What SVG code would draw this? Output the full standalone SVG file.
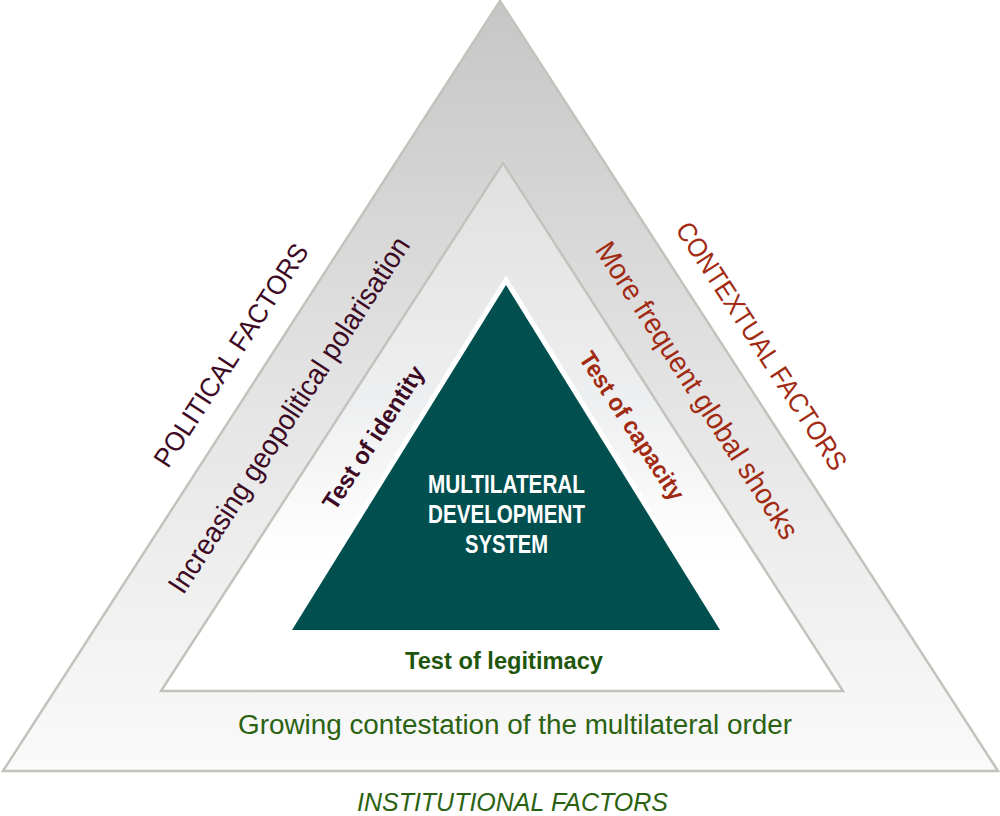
<svg xmlns="http://www.w3.org/2000/svg" width="1000" height="816" viewBox="0 0 1000 816">
<defs>
<linearGradient id="gOuter" x1="0" y1="0" x2="0" y2="1">
<stop offset="0" stop-color="#c6c6c6"/>
<stop offset="0.55" stop-color="#e6e6e7"/>
<stop offset="1" stop-color="#fafafa"/>
</linearGradient>
<linearGradient id="gMid" x1="0" y1="0" x2="0" y2="1">
<stop offset="0" stop-color="#e0e0e0"/>
<stop offset="0.45" stop-color="#eeeff0"/>
<stop offset="0.75" stop-color="#ffffff"/>
<stop offset="1" stop-color="#ffffff"/>
</linearGradient>
<style>
.edge{stroke:#c3c3bd;stroke-width:2.5;stroke-linejoin:miter}
.t{font-family:"Liberation Sans",Arial,sans-serif;text-anchor:middle}
.b{font-weight:bold}
.pol{fill:#3d0a24}
.con{fill:#a12a12}
.ins{fill:#2b6212}
.insb{fill:#1f560c}
.w{fill:#ffffff}
</style>
</defs>
<rect width="1000" height="816" fill="#ffffff"/>
<g id="outer">
<polygon class="edge" points="500,1 3,771 998,771" fill="url(#gOuter)"/>
</g>
<g id="middle">
<polygon class="edge" points="503,163 161,691 843,691" fill="url(#gMid)"/>
</g>
<g id="core">
<polygon points="506,285 292,630 720,630" fill="#ffffff" stroke="#ffffff" stroke-width="10" stroke-linejoin="miter"/>
<polygon points="506,285 292,630 720,630" fill="#01504f"/>
<text class="t b w" x="506.5" y="493" font-size="26" textLength="157" lengthAdjust="spacingAndGlyphs">MULTILATERAL</text>
<text class="t b w" x="506.5" y="523" font-size="26" textLength="157" lengthAdjust="spacingAndGlyphs">DEVELOPMENT</text>
<text class="t b w" x="506.5" y="553" font-size="26" textLength="83" lengthAdjust="spacingAndGlyphs">SYSTEM</text>
</g>
<g id="political">
<text class="t pol" x="238.8" y="360.2" font-size="27" textLength="260" lengthAdjust="spacingAndGlyphs" transform="rotate(-57 238.8 360.2)">POLITICAL FACTORS</text>
<text class="t pol" x="297.2" y="420.3" font-size="29" textLength="418" lengthAdjust="spacingAndGlyphs" transform="rotate(-57 297.2 420.3)">Increasing geopolitical polarisation</text>
<text class="t b pol" x="380.3" y="442.2" font-size="24" textLength="166" lengthAdjust="spacingAndGlyphs" transform="rotate(-57 380.3 442.2)">Test of identity</text>
</g>
<g id="contextual">
<text class="t con" x="753.8" y="351" font-size="27" textLength="290" lengthAdjust="spacingAndGlyphs" transform="rotate(57 753.8 351)">CONTEXTUAL FACTORS</text>
<text class="t con" x="688.9" y="395.6" font-size="29" textLength="348" lengthAdjust="spacingAndGlyphs" transform="rotate(57 688.9 395.6)">More frequent global shocks</text>
<text class="t b con" x="625" y="430.4" font-size="24" textLength="172" lengthAdjust="spacingAndGlyphs" transform="rotate(57 625 430.4)">Test of capacity</text>
</g>
<g id="institutional">
<text class="t b insb" x="504" y="669" font-size="24" textLength="198" lengthAdjust="spacingAndGlyphs">Test of legitimacy</text>
<text class="t ins" x="515" y="734" font-size="27" textLength="554" lengthAdjust="spacingAndGlyphs">Growing contestation of the multilateral order</text>
<text class="t ins" x="512.5" y="811" font-size="25" font-style="italic" textLength="311" lengthAdjust="spacingAndGlyphs">INSTITUTIONAL FACTORS</text>
</g>
</svg>
